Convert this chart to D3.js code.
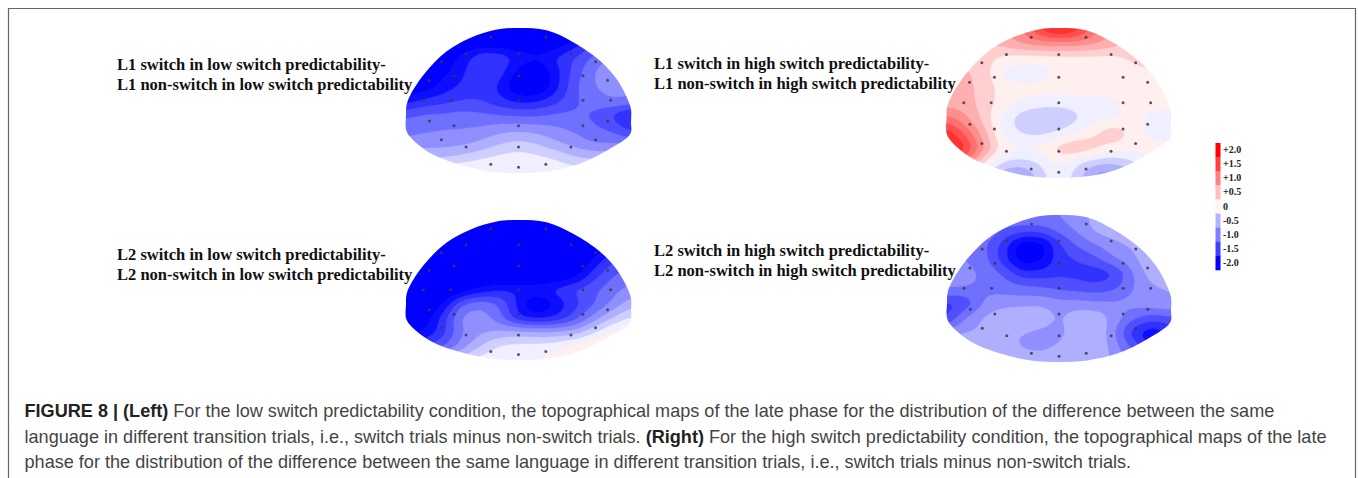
<!DOCTYPE html>
<html><head><meta charset="utf-8">
<script src="https://cdn.jsdelivr.net/npm/d3@7"></script>
<style>html,body{margin:0;padding:0;background:#fff;overflow:hidden}svg{display:block}</style>
</head><body><svg id="c" width="1358" height="478"></svg>
<script>
const legendLabels=["+2.0","+1.5","+1.0","+0.5","0","-0.5","-1.0","-1.5","-2.0"];
const legendValues=[2,1.5,1,0.5,0.08,-0.6,-1,-1.5,-2];
const mapTL=[
[-2.3,-2.3,-2.3,-2.3,-2.3,-2.3,-2.3,-2.3,-2.3,-2.3,-2.3,-2.3,-2.3],
[-2.3,-2.3,-2.3,-2.3,-2.3,-2.3,-2.3,-2.3,-2.3,-1.9,-1.6,-1.3,-1.2],
[-2.3,-2.3,-2.2,-1.95,-1.5,-1.55,-1.8,-1.95,-1.7,-1.5,-1.2,-1.0,-1.0],
[-2.3,-2.3,-2.1,-1.8,-1.45,-1.6,-2.1,-2.3,-1.85,-1.4,-1.0,-0.75,-1.0],
[-2.3,-2.2,-1.9,-1.7,-1.6,-1.8,-2.35,-2.4,-1.85,-1.3,-1.0,-0.9,-0.95],
[-1.9,-1.7,-1.6,-1.5,-1.5,-1.7,-1.85,-1.8,-1.6,-1.3,-1.1,-1.0,-1.0],
[-1.3,-1.2,-1.2,-1.15,-1.2,-1.25,-1.3,-1.3,-1.2,-1.2,-1.3,-1.55,-1.9],
[-1.1,-1.05,-1.0,-1.0,-0.95,-0.85,-0.8,-0.85,-0.95,-1.05,-1.2,-1.3,-1.6],
[-0.9,-0.85,-0.85,-0.8,-0.7,-0.5,-0.4,-0.5,-0.7,-0.85,-1.0,-1.0,-1.0],
[-0.5,-0.5,-0.5,-0.4,-0.25,-0.15,-0.1,-0.15,-0.25,-0.45,-0.5,-0.5,-0.5],
[0.1,0.1,0.1,0.1,0.08,-0.05,-0.1,-0.1,-0.05,-0.05,-0.2,-0.3,-0.3]];
const mapTR=[
[0.5,0.5,0.6,0.7,1.0,1.6,2.0,1.7,1.1,0.7,0.5,0.4,0.4],
[0.5,0.5,0.5,0.6,0.8,0.9,0.9,0.9,0.8,0.6,0.5,0.4,0.3],
[0.55,0.45,0.4,0.15,0.1,0.1,0.12,0.12,0.12,0.15,0.3,0.55,0.3],
[0.45,0.55,0.4,-0.1,-0.15,-0.15,0.1,0.12,0.12,0.12,0.12,0.12,0.12],
[0.55,0.55,0.45,0.12,0.1,0.1,0.12,0.12,0.12,0.12,0.12,0.12,0.12],
[0.6,0.6,0.4,0.12,-0.05,-0.12,-0.15,-0.12,-0.12,-0.05,0.1,0.1,0.1],
[1.1,0.8,0.4,-0.1,-0.4,-0.55,-0.55,-0.3,-0.1,-0.05,0.1,-0.1,-0.12],
[1.7,1.2,0.6,-0.05,-0.3,-0.35,-0.2,-0.02,0.25,0.5,0.1,-0.1,-0.12],
[2.0,1.6,0.8,0.12,0.1,0.1,0.4,0.55,0.35,0.12,0.1,0.1,0.1],
[1.5,1.0,0.25,-0.3,-0.4,-0.25,0.1,-0.25,-0.5,-0.5,-0.3,-0.1,0],
[-0.2,-0.3,-0.5,-0.8,-0.9,-0.4,-0.05,-0.4,-0.9,-1.0,-0.6,-0.2,-0.1]];
const mapBL=[
[-2.4,-2.4,-2.4,-2.4,-2.4,-2.4,-2.4,-2.4,-2.4,-2.4,-2.4,-2.4,-2.4],
[-2.4,-2.4,-2.4,-2.4,-2.4,-2.4,-2.4,-2.4,-2.4,-2.4,-2.4,-2.4,-2.4],
[-2.4,-2.4,-2.4,-2.4,-2.4,-2.4,-2.4,-2.4,-2.4,-2.4,-2.3,-1.8,-1.5],
[-2.4,-2.4,-2.4,-2.4,-2.4,-2.4,-2.4,-2.4,-2.4,-2.4,-1.9,-1.5,-1.3],
[-2.4,-2.4,-2.4,-2.4,-2.4,-2.4,-2.4,-2.4,-2.3,-2.1,-1.6,-1.25,-1.1],
[-2.4,-2.4,-2.4,-2.2,-1.9,-1.75,-1.75,-1.75,-1.65,-1.45,-1.3,-1.1,-0.9],
[-2.4,-2.4,-2.0,-1.2,-1.05,-1.25,-1.85,-2.4,-1.95,-1.6,-1.3,-0.95,-0.6],
[-2.3,-2.2,-1.6,-0.9,-0.85,-1.15,-1.75,-1.85,-1.75,-1.4,-0.9,-0.5,-0.2],
[-2.1,-2.0,-1.6,-1.0,-0.8,-0.7,-0.65,-0.7,-0.7,-0.65,-0.3,0.05,0.2],
[-1.5,-1.5,-1.3,-0.9,-0.5,-0.2,-0.15,-0.15,-0.1,0.1,0.25,0.3,0.3],
[-0.8,-0.8,-0.6,-0.3,-0.1,-0.05,-0.05,-0.05,0.2,0.4,0.4,0.3,0.3]];
const mapBR=[
[-1.05,-1.05,-1.05,-1.05,-1,-1,-1,-0.8,-0.7,-0.6,-0.6,-0.6,-0.6],
[-1,-1,-1,-1.25,-1.35,-1.35,-1.15,-0.95,-0.65,-0.6,-0.6,-0.6,-0.6],
[-1,-1,-1.2,-1.6,-2.2,-2.2,-1.55,-1.2,-1,-0.8,-0.7,-0.6,-0.6],
[-1,-1,-1.15,-1.65,-2.2,-2.1,-1.6,-1.5,-1.3,-1,-0.8,-0.5,-0.5],
[-0.9,-0.9,-1.05,-1.25,-1.65,-1.65,-1.55,-1.6,-1.7,-1.55,-1,-0.6,-0.5],
[-0.95,-1,-1.05,-1.1,-1.15,-1.2,-1.3,-1.35,-1.4,-1.3,-1.0,-0.8,-0.75],
[-1.6,-1.5,-0.95,-0.85,-0.85,-0.8,-0.9,-0.9,-0.95,-0.95,-0.9,-0.8,-0.75],
[-1.6,-0.95,-0.7,-0.55,-0.45,-0.5,-0.8,-0.55,-0.55,-0.85,-1.2,-1.4,-1.3],
[-0.8,-0.75,-0.7,-0.65,-0.75,-0.85,-0.9,-0.5,-0.5,-1.0,-1.7,-2.0,-1.7],
[-0.6,-0.5,-0.55,-0.6,-0.8,-0.85,-0.7,-0.5,-0.5,-0.9,-1.3,-1.9,-1.6],
[-0.45,-0.45,-0.45,-0.45,-0.5,-0.55,-0.5,-0.5,-0.55,-0.8,-1.1,-1.3,-1.3]];
const electrodes=[[-.246,.062],[.243,.062],[-.466,.177],[0,.177],[.466,.177],[-.685,.232],[.685,.232],[-.573,.329],[0,.329],[.573,.329],[-.795,.361],[.792,.361],[-.846,.499],[-.602,.499],[0,.499],[.573,.499],[.819,.499],[-.792,.641],[.792,.641],[-.573,.674],[0,.674],[.573,.674],[-.685,.77],[.685,.77],[-.466,.821],[0,.821],[.466,.821],[-.246,.94],[.243,.94],[0,.961]];
const outline=[[0,0],[.25,.016],[.49,.10],[.73,.23],[.875,.356],[.965,.483],[1,.56],[1,.65],[.994,.73],[.786,.845],[.519,.943],[.252,.989],[0,1],[-.252,.989],[-.519,.943],[-.786,.862],[-.964,.75],[-1,.70],[-1,.60],[-.995,.53],[-.96,.46],[-.831,.31],[-.638,.161],[-.43,.069],[-.193,.011]];
const panels=[
 {grid:mapTL,x:[406,631],y:[28,173]},
 {grid:mapTR,x:[946.5,1171],y:[28,178]},
 {grid:mapBL,x:[406,631],y:[220,360]},
 {grid:mapBR,x:[947,1171],y:[215,362]}];
const labels=[
 ["L1 switch in low switch predictability-","L1 non-switch in low switch predictability",117,69.5],
 ["L1 switch in high switch predictability-","L1 non-switch in high switch predictability",654,68.5],
 ["L2 switch in low switch predictability-","L2 non-switch in low switch predictability",117,260],
 ["L2 switch in high switch predictability-","L2 non-switch in high switch predictability",654,255.5]];
const captionLines=[
 [["FIGURE 8 | (Left)",1],[" For the low switch predictability condition, the topographical maps of the late phase for the distribution of the difference between the same",0]],
 [["language in different transition trials, i.e., switch trials minus non-switch trials. ",0],["(Right)",1],[" For the high switch predictability condition, the topographical maps of the late",0]],
 [["phase for the distribution of the difference between the same language in different transition trials, i.e., switch trials minus non-switch trials.",0]]];

const svg=d3.select("#c");
const STEP=0.25, thresholds=d3.range(-2.5,2.5,STEP), UP=8;
const color=d3.scaleLinear().domain([-2,0,2]).range(["#0000ff","#ffffff","#ff0000"]).clamp(true);
const defs=svg.append("defs");
defs.append("filter").attr("id","soft").append("feGaussianBlur").attr("stdDeviation",0.5);

// frame
svg.append("path").attr("d","M8.5,478V8.5H1355.5V478").attr("fill","none").attr("stroke","#666").attr("stroke-width",1.2);

function upsample(g){
  const rows=g.length,cols=g[0].length,w=(cols-1)*UP+1,h=(rows-1)*UP+1,d=new Float64Array(w*h);
  for(let j=0;j<h;j++)for(let i=0;i<w;i++){
    const a=i/UP,b=j/UP,i0=Math.min(Math.floor(a),cols-2),j0=Math.min(Math.floor(b),rows-2);
    d[j*w+i]=d3.interpolateNumber(
      d3.interpolateNumber(g[j0][i0],g[j0][i0+1])(a-i0),
      d3.interpolateNumber(g[j0+1][i0],g[j0+1][i0+1])(a-i0))(b-j0);
  }
  return {data:d,width:w,height:h};
}
panels.forEach((p,k)=>{
  const sx=d3.scaleLinear([-1,1],p.x), sy=d3.scaleLinear([0,1],p.y);
  const up=upsample(p.grid);
  d3.blur2(up,2);
  const gx=d3.scaleLinear([0,up.width-1],p.x), gy=d3.scaleLinear([0,up.height-1],p.y);
  const path=d3.geoPath(d3.geoTransform({point(x,y){this.stream.point(gx(x-.5),gy(y-.5));}}));
  const contours=d3.contours().size([up.width,up.height]).thresholds(thresholds)(up.data);
  const hull=d3.line().x(d=>sx(d[0])).y(d=>sy(d[1])).curve(d3.curveCatmullRomClosed);
  defs.append("clipPath").attr("id","head"+k).append("path").attr("d",hull(outline));
  const g=svg.append("g").attr("clip-path",`url(#head${k})`);
  const f=g.append("g").attr("filter","url(#soft)");
  f.selectAll("path").data(contours).join("path")
    .attr("d",path).attr("fill",d=>color(d.value+STEP/2)).attr("stroke",d=>color(d.value+STEP/2)).attr("stroke-width",.3);
  svg.append("g").selectAll("circle").data(electrodes).join("circle")
    .attr("cx",d=>sx(d[0])).attr("cy",d=>sy(d[1])).attr("r",1.5).attr("fill","#3a3a4a").attr("opacity",.85);
});

// condition labels
const lab=svg.append("g").attr("font-family","'Liberation Serif',serif").attr("font-weight","bold").attr("font-size",16.5).attr("fill","#111");
labels.forEach(l=>{
  lab.append("text").attr("x",l[2]).attr("y",l[3]).text(l[0]);
  lab.append("text").attr("x",l[2]).attr("y",l[3]+20).text(l[1]);
});

// legend
const ly=d3.scaleBand().domain(legendLabels).range([143,270]);
const lg=svg.append("g");
lg.selectAll("rect").data(legendLabels).join("rect")
  .attr("x",1215.5).attr("width",5).attr("y",d=>ly(d)).attr("height",ly.bandwidth()+.3)
  .attr("fill",(d,i)=>color(legendValues[i]));
lg.selectAll("text").data(legendLabels).join("text")
  .attr("x",1223).attr("y",d=>ly(d)+ly.bandwidth()/2+3)
  .attr("font-family","'Liberation Serif',serif").attr("font-weight","bold").attr("font-size",10).attr("fill","#222").text(d=>d);

// caption
const cap=svg.append("g").attr("font-family","'Liberation Sans',Arial,sans-serif").attr("font-size",18.1).attr("fill","#444");
captionLines.forEach((ln,i)=>{
  const t=cap.append("text").attr("x",24.5).attr("y",417+i*25.5);
  ln.forEach(s=>t.append("tspan").attr("font-weight",s[1]?"bold":"normal").attr("fill",s[1]?"#222":"#444").text(s[0]));
});
</script></body></html>
